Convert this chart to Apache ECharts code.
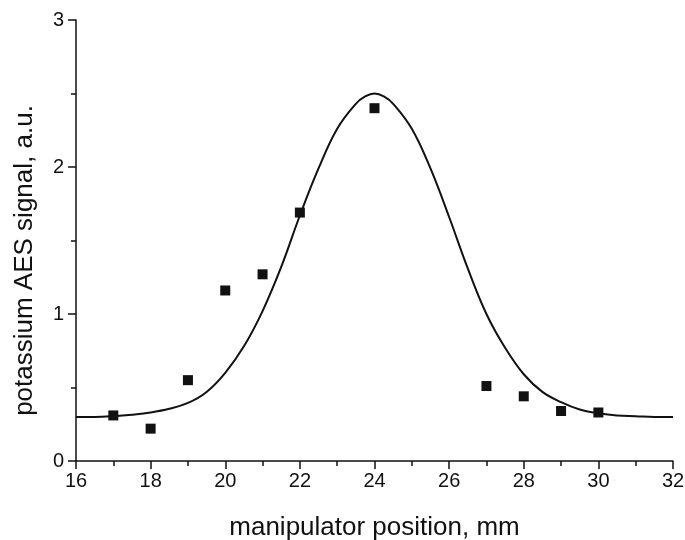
<!DOCTYPE html>
<html>
<head>
<meta charset="utf-8">
<script src="https://cdn.jsdelivr.net/npm/echarts@6/dist/echarts.min.js"></script>
<style>
  html, body { margin: 0; padding: 0; background: #fff; }
  #one { width: 685px; height: 540px; }
</style>
</head>
<body>
<div id="one"></div>
<script>
// measured points
var posX = [17, 18, 19, 20, 21, 22, 24, 27, 28, 29, 30];
var signal = [0.31, 0.22, 0.55, 1.16, 1.27, 1.69, 2.40, 0.51, 0.44, 0.34, 0.33];

// fit curve
var fitX = [16, 16.5, 17, 17.5, 18, 18.5, 19, 19.5, 20, 20.5, 21, 21.5, 22, 22.5, 23, 23.5, 23.75, 24,
            24.25, 24.5, 25, 25.5, 26, 26.5, 27, 27.5, 28, 28.5, 29, 29.5, 30, 30.5, 31, 31.5, 32];
var fitY = [0.30, 0.30, 0.305, 0.315, 0.33, 0.355, 0.395, 0.47, 0.60, 0.78, 1.02, 1.32, 1.67, 1.99, 2.26, 2.43, 2.48, 2.50,
            2.48, 2.43, 2.26, 1.99, 1.66, 1.31, 1.00, 0.77, 0.59, 0.47, 0.40, 0.35, 0.325, 0.31, 0.305, 0.30, 0.30];

var myChart = echarts.init(document.getElementById("one"));

var font = 'Liberation Sans, Arial, sans-serif';
var axisCommon = {
    axisLine: { show: true, lineStyle: { color: '#111', width: 1.5 } },
    axisTick: { show: true, inside: false, length: 8, lineStyle: { color: '#111', width: 1.5 } },
    minorTick: { show: true, splitNumber: 2, length: 5, lineStyle: { color: '#111', width: 1.5 } },
    splitLine: { show: false },
    axisLabel: { color: '#111', fontSize: 20, fontFamily: font },
    nameLocation: 'middle',
    nameTextStyle: { color: '#111', fontSize: 26, fontFamily: font }
};

option = {
    animation: false,
    grid: { left: 76, right: 12, top: 20, bottom: 79, outerBoundsMode: 'none' },
    xAxis: Object.assign({}, axisCommon, {
        type: 'value',
        min: 16, max: 32, interval: 2,
        name: 'manipulator position, mm',
        nameGap: 54,
        axisLabel: Object.assign({}, axisCommon.axisLabel, { margin: 10 })
    }),
    yAxis: Object.assign({}, axisCommon, {
        type: 'value',
        min: 0, max: 3, interval: 1,
        name: 'potassium AES signal, a.u.',
        nameGap: 38,
        nameTextStyle: Object.assign({}, axisCommon.nameTextStyle, { padding: [0, 40, 0, 0] }),
        axisLabel: Object.assign({}, axisCommon.axisLabel, { margin: 12 })
    }),
    series: [
        {
            name: 'fit',
            type: 'line',
            smooth: 0.4,
            showSymbol: false,
            lineStyle: { color: '#111', width: 2 },
            data: fitX.map(function (x, i) { return [x, fitY[i]]; }),
            z: 2
        },
        {
            name: 'data',
            type: 'scatter',
            symbol: 'rect',
            symbolSize: 10,
            itemStyle: { color: '#111', opacity: 1 },
            data: posX.map(function (x, i) { return [x, signal[i]]; }),
            z: 3
        }
    ]
};
myChart.setOption(option);
</script>
</body>
</html>
